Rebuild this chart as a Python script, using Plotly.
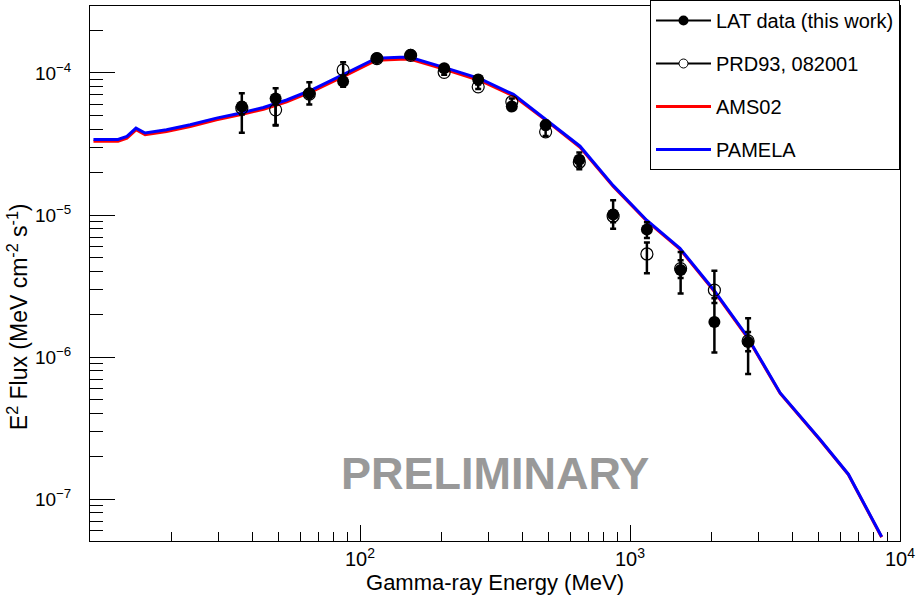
import plotly.graph_objects as go

# ---- data ----
energy_bins = [36.5, 48.7, 64.9, 86.6, 115.5, 154, 205, 274, 365, 487, 649, 866, 1155, 1540, 2054, 2738]

lat_flux = [5.8e-5, 6.6e-5, 7.2e-5, 8.7e-5, 1.27e-4, 1.34e-4, 1.08e-4, 9.0e-5, 5.8e-5, 4.3e-5,
            2.45e-5, 1.01e-5, 7.9e-6, 4.1e-6, 1.77e-6, 1.28e-6]
lat_hi = [7.2e-5, 7.8e-5, 8.6e-5, 9.3e-5, 1.33e-4, 1.40e-4, 1.13e-4, 9.5e-5, 6.1e-5, 4.6e-5,
          2.75e-5, 1.27e-5, 8.9e-6, 5.5e-6, 2.6e-6, 1.88e-6]
lat_lo = [3.8e-5, 4.3e-5, 6.0e-5, 8.0e-5, 1.2e-4, 1.28e-4, 1.03e-4, 8.5e-5, 5.5e-5, 4.0e-5,
          2.1e-5, 8.0e-6, 6.9e-6, 2.8e-6, 1.08e-6, 7.6e-7]

prd_flux = [5.65e-5, 5.5e-5, 7.1e-5, 1.05e-4, 1.26e-4, 1.33e-4, 1.01e-4, 7.98e-5, 6.27e-5, 3.85e-5,
            2.35e-5, 9.8e-6, 5.32e-6, 4.2e-6, 2.96e-6, 1.3e-6]
prd_hi = [6.2e-5, 6.0e-5, 7.6e-5, 1.19e-4, 1.31e-4, 1.38e-4, 1.05e-4, 8.3e-5, 6.6e-5, 4.1e-5,
          2.5e-5, 1.08e-5, 6.4e-6, 4.8e-6, 4.05e-6, 1.5e-6]
prd_lo = [5.1e-5, 4.26e-5, 6.6e-5, 9.6e-5, 1.21e-4, 1.28e-4, 9.7e-5, 7.7e-5, 6.0e-5, 3.6e-5,
          2.2e-5, 8.9e-6, 3.9e-6, 3.6e-6, 2.4e-6, 1.1e-6]

model_energy = [10.3, 12.7, 13.7, 14.8, 16.0, 19.2, 23.5, 29.4, 35.9, 43.9, 53.5, 67.2, 89.3, 115,
                141, 153, 206, 278, 370, 491, 653, 867, 1153, 1531, 2037, 2704, 3600, 5058, 6438, 8553]
pamela_flux = [3.4e-5, 3.4e-5, 3.58e-5, 4.09e-5, 3.78e-5, 3.98e-5, 4.32e-5, 4.81e-5, 5.21e-5, 5.71e-5,
               6.45e-5, 7.69e-5, 1.0e-4, 1.27e-4, 1.29e-4, 1.29e-4, 1.09e-4, 9.13e-5, 7.06e-5, 4.68e-5,
               3.05e-5, 1.61e-5, 9.2e-6, 5.83e-6, 2.99e-6, 1.42e-6, 5.6e-7, 2.63e-7, 1.5e-7, 5.45e-8]
ams02_flux = [3.3e-5, 3.3e-5, 3.48e-5, 3.98e-5, 3.68e-5, 3.87e-5, 4.2e-5, 4.68e-5, 5.07e-5, 5.55e-5,
              6.27e-5, 7.48e-5, 9.7e-5, 1.23e-4, 1.25e-4, 1.25e-4, 1.06e-4, 8.85e-5, 6.9e-5, 4.6e-5,
              3.0e-5, 1.59e-5, 9.1e-6, 5.75e-6, 2.95e-6, 1.4e-6, 5.55e-7, 2.61e-7, 1.49e-7, 5.4e-8]

x_tickvals = [1e2, 1e3, 1e4]
x_ticktext = ["10<sup>2</sup>", "10<sup>3</sup>", "10<sup>4</sup>"]
y_tickvals = [1e-7, 1e-6, 1e-5, 1e-4]
y_ticktext = ["10<sup>\u22127</sup>", "10<sup>\u22126</sup>", "10<sup>\u22125</sup>", "10<sup>\u22124</sup>"]

FONT = "Liberation Sans, Arial, Helvetica, sans-serif"

fig = go.Figure()

fig.add_trace(go.Scatter(x=model_energy, y=ams02_flux, mode="lines", name="AMS02",
                         line=dict(color="#ff0000", width=3), showlegend=False))
fig.add_trace(go.Scatter(x=model_energy, y=pamela_flux, mode="lines", name="PAMELA",
                         line=dict(color="#0000ff", width=3), showlegend=False))

err_lat_p = [h - v for h, v in zip(lat_hi, lat_flux)]
err_lat_m = [v - l for l, v in zip(lat_lo, lat_flux)]
err_prd_p = [h - v for h, v in zip(prd_hi, prd_flux)]
err_prd_m = [v - l for l, v in zip(prd_lo, prd_flux)]

fig.add_trace(go.Scatter(x=energy_bins, y=prd_flux, mode="markers", name="PRD93, 082001",
                         marker=dict(symbol="circle-open", size=12, color="black", line=dict(width=1.2)),
                         error_y=dict(type="data", symmetric=False, array=err_prd_p, arrayminus=err_prd_m,
                                      color="black", thickness=2.5, width=3),
                         showlegend=False))
fig.add_trace(go.Scatter(x=energy_bins, y=lat_flux, mode="markers", name="LAT data (this work)",
                         marker=dict(symbol="circle", size=12, color="black"),
                         error_y=dict(type="data", symmetric=False, array=err_lat_p, arrayminus=err_lat_m,
                                      color="black", thickness=2.5, width=3),
                         showlegend=False))

# legend entries
fig.add_trace(go.Scatter(x=[None], y=[None], mode="lines+markers", name="LAT data (this work)",
                         line=dict(color="black", width=2), marker=dict(symbol="circle", size=10, color="black"),
                         legendgroup="a"))
fig.add_trace(go.Scatter(x=[None], y=[None], mode="lines+markers", name="PRD93, 082001",
                         line=dict(color="black", width=2),
                         marker=dict(symbol="circle", size=9, color="white", line=dict(color="black", width=1)),
                         legendgroup="b"))
fig.add_trace(go.Scatter(x=[None], y=[None], mode="lines", name="AMS02",
                         line=dict(color="#ff0000", width=3), legendgroup="c"))
fig.add_trace(go.Scatter(x=[None], y=[None], mode="lines", name="PAMELA",
                         line=dict(color="#0000ff", width=3), legendgroup="d"))

fig.add_annotation(text="<b>PRELIMINARY</b>", x=0.5, y=0.126, xref="paper", yref="paper",
                   xanchor="center", yanchor="middle",
                   showarrow=False, font=dict(family=FONT, size=45, color="#999999"))

# y-axis title (placed as in the reference, slightly below centre)
fig.add_annotation(text="E<sup>2</sup> Flux (MeV cm<sup>-2</sup> s<sup>-1</sup>)",
                   x=-0.089, y=0.42, xref="paper", yref="paper", textangle=-90,
                   xanchor="center", yanchor="middle", showarrow=False,
                   font=dict(family=FONT, size=23, color="black"))

fig.update_layout(
    width=917, height=608,
    margin=dict(l=90, r=17, t=0, b=67),
    paper_bgcolor="white", plot_bgcolor="white",
    font=dict(family=FONT, color="black"),
    legend=dict(x=1, y=1.012, xanchor="right", yanchor="top", bgcolor="white",
                bordercolor="black", borderwidth=1, font=dict(family=FONT, size=20),
                tracegroupgap=14, traceorder="grouped", itemwidth=55),
)
fig.update_xaxes(type="log", range=[1, 4], showgrid=False, zeroline=False, automargin=False,
                 showline=True, linecolor="black", linewidth=1, mirror=True,
                 ticks="inside", ticklen=16, tickcolor="black",
                 tickvals=x_tickvals, ticktext=x_ticktext, tickfont=dict(size=20),
                 minor=dict(ticks="inside", ticklen=9, tickcolor="black", dtick="D1", showgrid=False),
                 title=dict(text="Gamma-ray Energy (MeV)", font=dict(size=22), standoff=2))
fig.update_yaxes(type="log", range=[-7.294, -3.529], showgrid=False, zeroline=False, automargin=False,
                 showline=True, linecolor="black", linewidth=1, mirror=True,
                 ticks="inside", ticklen=25, tickcolor="black",
                 tickvals=y_tickvals, ticktext=y_ticktext, tickfont=dict(size=19),
                 ticklabelstandoff=14,
                 minor=dict(ticks="inside", ticklen=13, tickcolor="black", dtick="D1", showgrid=False))

fig.write_html("out.html", config={"displayModeBar": False},
               post_script="document.body.style.margin='0';")
